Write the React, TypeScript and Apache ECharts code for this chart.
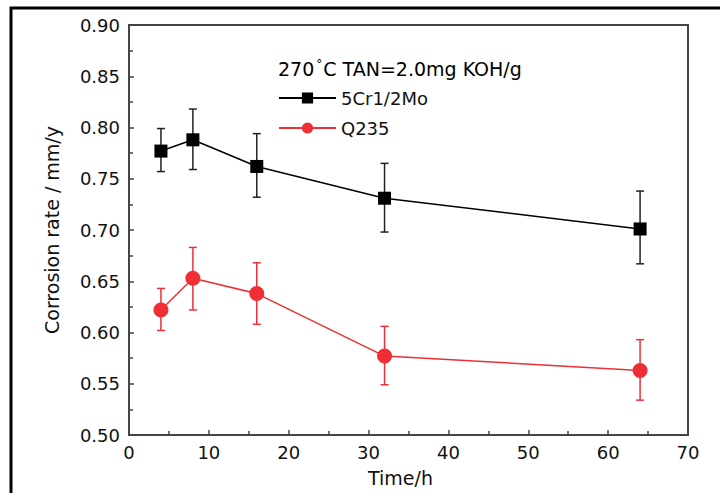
import React, { useEffect, useRef } from "react";
import * as echarts from "echarts";

const times = [4, 8, 16, 32, 64];
const crMoMean = [0.777, 0.788, 0.762, 0.731, 0.701];
const crMoLow = [0.757, 0.759, 0.732, 0.698, 0.667];
const crMoHigh = [0.799, 0.818, 0.794, 0.765, 0.738];
const q235Mean = [0.622, 0.653, 0.638, 0.577, 0.563];
const q235Low = [0.602, 0.622, 0.608, 0.549, 0.534];
const q235High = [0.643, 0.683, 0.668, 0.606, 0.593];

const seriesNames = ["5Cr1/2Mo", "Q235"];
const titleParts = ["270", "°", "C TAN=2.0mg KOH/g"];
const xName = "Time/h";
const yName = "Corrosion rate / mm/y";

const FONT = "DejaVu Sans";
const BLACK = "#000000";
const RED = "#ee2f36";

function errorSeries(low: number[], high: number[], color: string) {
  return {
    type: "custom",
    z: 1,
    silent: true,
    data: times.map((t, i) => [t, low[i], high[i]]),
    encode: { x: 0, y: [1, 2] },
    renderItem: (params: any, api: any) => {
      const x = api.value(0);
      const lo = api.coord([x, api.value(1)]);
      const hi = api.coord([x, api.value(2)]);
      const hw = 4;
      const style = { stroke: color, lineWidth: 1.5 };
      return {
        type: "group",
        children: [
          { type: "line", shape: { x1: lo[0], y1: lo[1], x2: hi[0], y2: hi[1] }, style },
          { type: "line", shape: { x1: lo[0] - hw, y1: lo[1], x2: lo[0] + hw, y2: lo[1] }, style },
          { type: "line", shape: { x1: hi[0] - hw, y1: hi[1], x2: hi[0] + hw, y2: hi[1] }, style },
        ],
      };
    },
  };
}

export default function App() {
  const ref = useRef<HTMLDivElement>(null);
  useEffect(() => {
    if (!ref.current) return;
    const chart = echarts.init(ref.current, undefined, { renderer: "svg" });
    const axisColor = "#444444";
    chart.setOption({
      animation: false,
      backgroundColor: "#ffffff",
      grid: {
        left: 129,
        top: 25,
        right: 32,
        bottom: 58,
        show: true,
        borderColor: axisColor,
        borderWidth: 2,
        backgroundColor: "transparent",
      },
      legend: {
        data: seriesNames,
        orient: "vertical",
        left: 278,
        top: 89,
        padding: 0,
        itemWidth: 57,
        itemHeight: 14,
        itemGap: 12,
        selectedMode: false,
        textStyle: { fontFamily: FONT, fontSize: 18, color: "#111" },
      },
      graphic: [
        {
          type: "rect",
          shape: { x: 11, y: 8, width: 740, height: 520 },
          style: { fill: "none", stroke: "#000", lineWidth: 3 },
          silent: true,
        },
        {
          type: "text",
          left: 278,
          top: 58,
          style: {
            text: `{n|${titleParts[0]}}{s|${titleParts[1]}}{n|${titleParts[2]}}`,
            rich: {
              n: { fontFamily: FONT, fontSize: 19, color: "#111" },
              s: { fontFamily: FONT, fontSize: 12, color: "#111", padding: [0, 1, 9, 2] },
            },
          },
        },
      ],
      xAxis: {
        type: "value",
        min: 0,
        max: 70,
        interval: 10,
        name: xName,
        nameLocation: "middle",
        nameGap: 33,
        nameTextStyle: { fontFamily: FONT, fontSize: 19, color: "#111", padding: [0, 16, 0, 0] },
        axisLine: { lineStyle: { color: axisColor, width: 2 } },
        axisTick: { inside: true, length: 5, lineStyle: { color: axisColor, width: 1.5 } },
        minorTick: { show: true, splitNumber: 2, length: 4, lineStyle: { color: axisColor, width: 1.5 } },
        splitLine: { show: false },
        axisLabel: { fontFamily: FONT, fontSize: 18, color: "#111", margin: 8 },
      },
      yAxis: {
        type: "value",
        min: 0.5,
        max: 0.9,
        interval: 0.05,
        name: yName,
        nameLocation: "middle",
        nameRotate: 90,
        nameGap: 68,
        nameTextStyle: { fontFamily: FONT, fontSize: 19, color: "#111" },
        axisLine: { lineStyle: { color: axisColor, width: 2 } },
        axisTick: { inside: true, length: 5, lineStyle: { color: axisColor, width: 1.5 } },
        minorTick: { show: true, splitNumber: 2, length: 4, lineStyle: { color: axisColor, width: 1.5 } },
        splitLine: { show: false },
        axisLabel: {
          fontFamily: FONT,
          fontSize: 18,
          color: "#111",
          margin: 9,
          formatter: (v: number) => v.toFixed(2),
        },
      },
      series: [
        errorSeries(crMoLow, crMoHigh, "#222"),
        errorSeries(q235Low, q235High, RED),
        {
          name: seriesNames[0],
          type: "line",
          z: 3,
          data: times.map((t, i) => [t, crMoMean[i]]),
          symbol: "rect",
          symbolSize: 13,
          itemStyle: { color: BLACK },
          lineStyle: { color: BLACK, width: 1.5 },
        },
        {
          name: seriesNames[1],
          type: "line",
          z: 3,
          data: times.map((t, i) => [t, q235Mean[i]]),
          symbol: "circle",
          symbolSize: 15,
          itemStyle: { color: RED },
          lineStyle: { color: RED, width: 1.5 },
        },
      ],
    });
    return () => chart.dispose();
  }, []);
  return <div ref={ref} style={{ width: 720, height: 493, position: "absolute", left: 0, top: 0 }} />;
}
